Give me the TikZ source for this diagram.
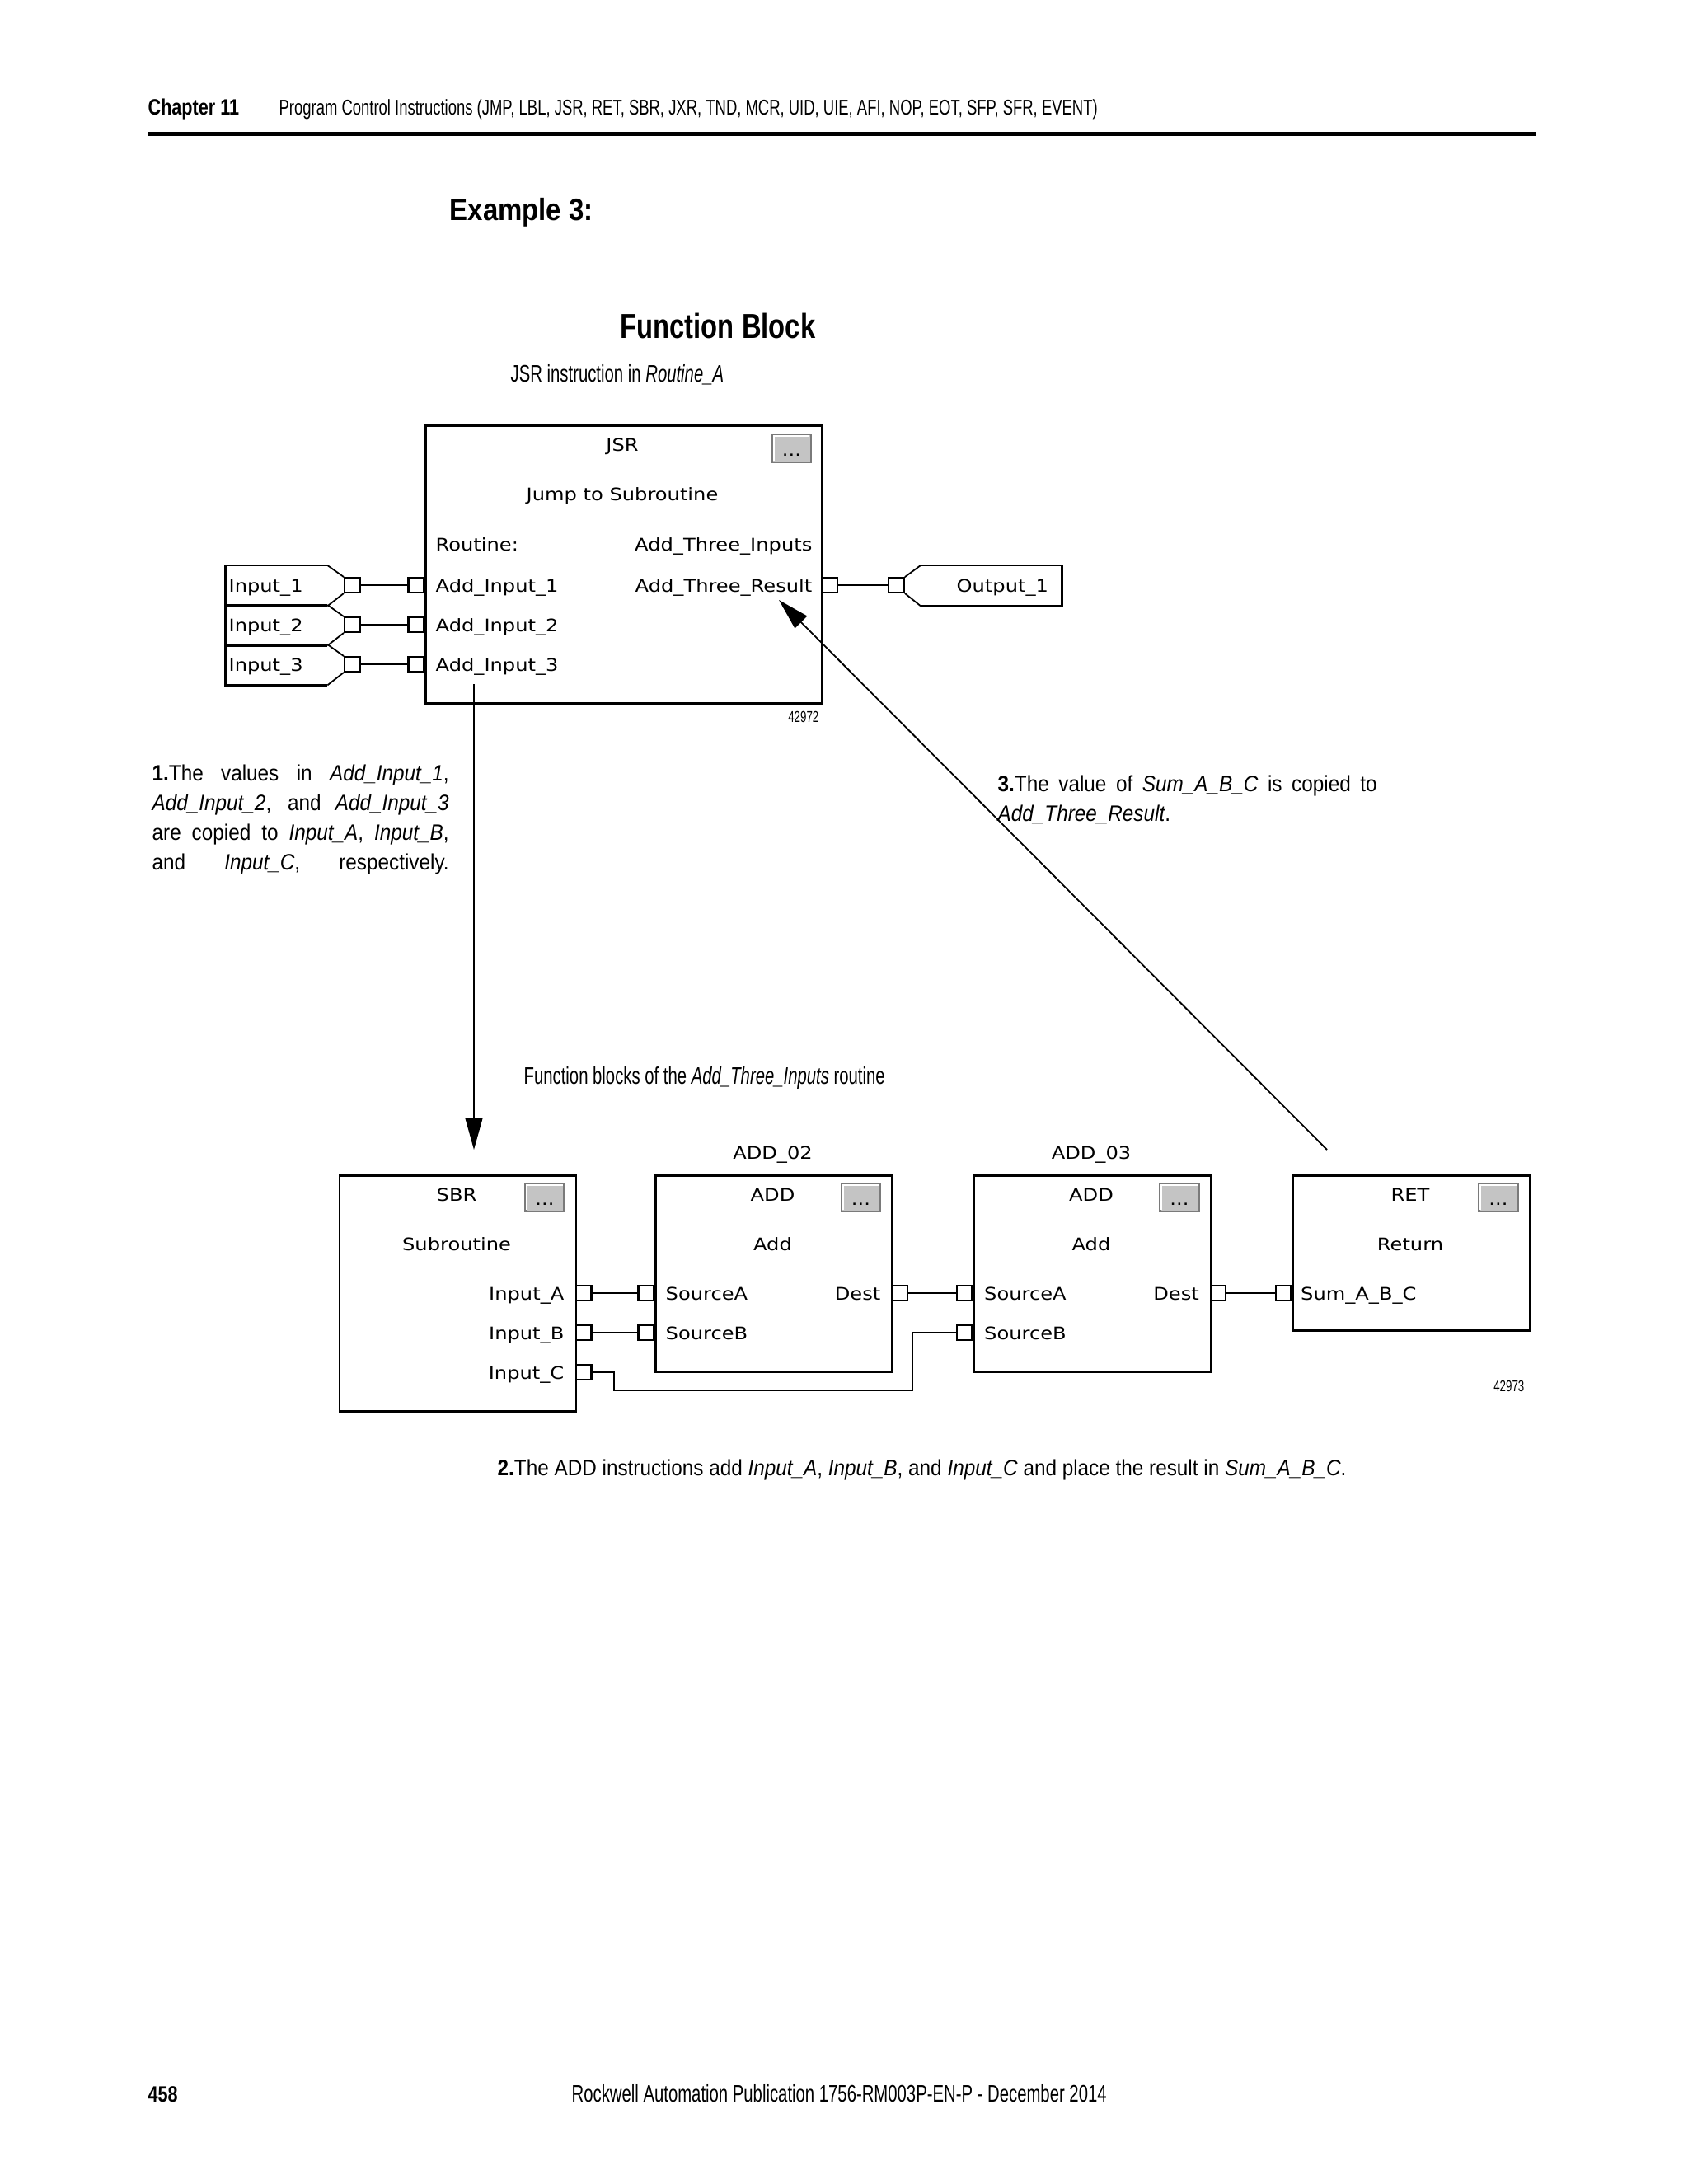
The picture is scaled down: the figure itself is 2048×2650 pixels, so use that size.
\documentclass[tikz,border=0pt]{standalone}
\usepackage{fontspec}
\usetikzlibrary{arrows.meta}
\newfontfamily\hdfont[FakeStretch=0.71]{Liberation Sans}
\newfontfamily\capfont[FakeStretch=0.7]{Liberation Sans}
\newfontfamily\hbfont[FakeStretch=0.8]{Liberation Sans}
\newfontfamily\exfont[FakeStretch=0.88]{Liberation Sans}
\newfontfamily\ttlfont[FakeStretch=0.78]{Liberation Sans}
\newfontfamily\bodyfont[FakeStretch=0.9]{Liberation Sans}
\newfontfamily\dgfont[FakeStretch=1.15]{DejaVu Sans}
\newcommand\PX[1]{#1*0.298828pt}
\definecolor{btnfill}{HTML}{C4C4C4}
\definecolor{btndark}{HTML}{7A7A7A}
\tikzset{
  fb/.style={draw, line width=\PX{2.8}, minimum width=\PX{287}, inner sep=0, anchor=north west},
  pinbox/.style={draw, line width=\PX{2.4}, minimum width=\PX{18.5}, minimum height=\PX{17.5}, inner sep=0, fill=white},
  wire/.style={line width=\PX{2.4}},
  chev/.style={line width=\PX{1.8}},
  tagline/.style={line width=\PX{2.6}},
  tagbox/.style={inner sep=0, minimum height=\PX{48}, anchor=north west},
  dtxt/.style={inner sep=0, font=\dgfont\fontsize{6.275pt}{7pt}\selectfont},
  btnbox/.style={draw=btndark, fill=btnfill, line width=\PX{2.2}, minimum width=\PX{47}, minimum height=\PX{34}, inner sep=0},
  ann/.style={line width=\PX{1.8}, -{Triangle[length=11.4pt,width=6.2pt]}},
  hdr/.style={inner sep=0, anchor=base west, font=\hdfont\fontsize{7.77pt}{9pt}\selectfont},
  hdrb/.style={inner sep=0, anchor=base west, font=\hbfont\bfseries\fontsize{8.07pt}{9pt}\selectfont},
  captxt/.style={inner sep=0, anchor=base west, font=\capfont\fontsize{8.67pt}{10pt}\selectfont},
  bodytxt/.style={inner sep=0, anchor=base west, font=\bodyfont\fontsize{8.07pt}{10.76pt}\selectfont},
  fignum/.style={inner sep=0, anchor=base east, font=\capfont\fontsize{5.68pt}{6pt}\selectfont}
}
\newcommand\fbbtn[3]{%
  \node[btnbox, anchor=north east] (#1) at (#2,#3) {};
  \draw[white, line width=\PX{2}] ([shift={(3,-3)}]#1.south west) -- ([shift={(3,3)}]#1.north west) -- ([shift={(-3,3)}]#1.north east);
  \node[dtxt, anchor=base] (#1d) at ([shift={(0,-9)}]#1.south) {...};
}
\begin{document}
\begin{tikzpicture}[x=0.298828pt, y=-0.298828pt]
\useasboundingbox (0,0) rectangle (2048,2650);
\fill[white] (0,0) rectangle (2048,2650);

% page header
\node[hdrb] (chap) at (179,139) {Chapter 11};
\node[hdr] (chapt) at (338,139) {Program Control Instructions (JMP, LBL, JSR, RET, SBR, JXR, TND, MCR, UID, UIE, AFI, NOP, EOT, SFP, SFR, EVENT)};
\draw[line width=\PX{5}] (179,162) -- (1864,162);

\node[inner sep=0, anchor=base west, font=\exfont\bfseries\fontsize{11.2pt}{12pt}\selectfont] (ex) at (545,267) {Example 3:};
\node[inner sep=0, anchor=base west, font=\ttlfont\bfseries\fontsize{12.55pt}{14pt}\selectfont] (fbt) at (752,410) {Function Block};
\node[captxt] (jsrcap) at (619,463) {JSR instruction in \textit{Routine\_A}};

% JSR block
\node[fb, minimum width=\PX{481}, minimum height=\PX{337}] (jsr) at (515,515) {};
\node[dtxt, anchor=base] (jsrT) at (755,547) {JSR};
\node[dtxt, anchor=base] (jsrS) at (755,607) {Jump to Subroutine};
\node[dtxt, anchor=base west] (jsrR) at (528,668) {Routine:};
\node[dtxt, anchor=base east] (jsrRn) at (986,668) {Add\_Three\_Inputs};
\node[dtxt, anchor=base west] (jsrI1) at (528,718) {Add\_Input\_1};
\node[dtxt, anchor=base east] (jsrO) at (986,718) {Add\_Three\_Result};
\node[dtxt, anchor=base west] (jsrI2) at (528,766) {Add\_Input\_2};
\node[dtxt, anchor=base west] (jsrI3) at (528,814) {Add\_Input\_3};
\fbbtn{jsrB}{985}{526}
\node[pinbox, anchor=east] (jp1) at (515,710) {};
\node[pinbox, anchor=east] (jp2) at (515,758) {};
\node[pinbox, anchor=east] (jp3) at (515,806) {};
\node[pinbox, anchor=west] (jpo) at (996,710) {};
\node[fignum] (n42972) at (994,876) {42972};

% input tags
\foreach \i/\yt/\yc in {1/686/710, 2/734/758, 3/782/806}{
  \node[tagbox, minimum width=\PX{122.4}] (tg\i) at (273.6,\yt) {};
  \node[dtxt, anchor=base west] (tgt\i) at (277,\yc+8) {Input\_\i};
  \node[pinbox, anchor=west] (tp\i) at (417,\yc) {};
  \draw[tagline] (tg\i.north east) -- (tg\i.north west) -- (tg\i.south west) -- (tg\i.south east);
  \draw[chev] (tg\i.north east) -- (tp\i.north west);
  \draw[chev] (tp\i.south west) -- (tg\i.south east);
  \draw[wire] (tp\i) -- (jp\i);
}

% output tag
\node[pinbox, anchor=west] (op) at (1077,710) {};
\node[tagbox, minimum width=\PX{170}] (otg) at (1117,686) {};
\node[dtxt, anchor=base west] (otgt) at (1160,718) {Output\_1};
\draw[tagline] (otg.north west) -- (otg.north east) -- (otg.south east) -- (otg.south west);
\draw[chev] (op.north east) -- (otg.north west);
\draw[chev] (op.south east) -- (otg.south west);
\draw[wire] (jpo) -- (op);

% annotations
\node[bodytxt] (t1) at (184,947) {\parbox[t]{107.58pt}{%
\makebox[107.58pt][s]{\textbf{1.}The values in \textit{Add\_Input\_1},}\\
\makebox[107.58pt][s]{\textit{Add\_Input\_2}, and \textit{Add\_Input\_3}}\\
\makebox[107.58pt][s]{are copied to \textit{Input\_A}, \textit{Input\_B},}\\
\makebox[107.58pt][s]{and \textit{Input\_C}, respectively.}}};
\node[bodytxt] (t3) at (1210,960) {\parbox[t]{137.46pt}{%
\makebox[137.46pt][s]{\textbf{3.}The value of \textit{Sum\_A\_B\_C} is copied to}\\
\textit{Add\_Three\_Result}.}};
\node[captxt] (fbcap) at (635,1315) {Function blocks of the \textit{Add\_Three\_Inputs} routine};

\coordinate (a1s) at (575,830);
\coordinate (a1e) at (575,1395);
\draw[ann] (a1s) -- (a1e);
\coordinate (a3s) at (1610,1395);
\coordinate (a3e) at (945,728);
\draw[ann] (a3s) -- (a3e);

% SBR block
\node[fb, minimum height=\PX{286}] (sbr) at (410.6,1425) {};
\node[dtxt, anchor=base] (sbrT) at (554,1457) {SBR};
\node[dtxt, anchor=base] (sbrS) at (554,1517) {Subroutine};
\node[dtxt, anchor=base east] (sbrA) at (685,1577) {Input\_A};
\node[dtxt, anchor=base east] (sbrB) at (685,1625) {Input\_B};
\node[dtxt, anchor=base east] (sbrC) at (685,1673) {Input\_C};
\fbbtn{sbrBt}{685.6}{1435}
\node[pinbox, anchor=west] (sp1) at (697.6,1569) {};
\node[pinbox, anchor=west] (sp2) at (697.6,1617) {};
\node[pinbox, anchor=west] (sp3) at (697.6,1665) {};

% ADD_02
\node[fb, minimum height=\PX{238}] (add2) at (794,1425) {};
\node[dtxt, anchor=base] (add2N) at (937.5,1406) {ADD\_02};
\node[dtxt, anchor=base] (add2T) at (937.5,1457) {ADD};
\node[dtxt, anchor=base] (add2S) at (937.5,1517) {Add};
\node[dtxt, anchor=base west] (add2A) at (807,1577) {SourceA};
\node[dtxt, anchor=base west] (add2B) at (807,1625) {SourceB};
\node[dtxt, anchor=base east] (add2D) at (1069,1577) {Dest};
\fbbtn{add2Bt}{1069}{1435}
\node[pinbox, anchor=east] (a2a) at (794,1569) {};
\node[pinbox, anchor=east] (a2b) at (794,1617) {};
\node[pinbox, anchor=west] (a2d) at (1081,1569) {};

% ADD_03
\node[fb, minimum height=\PX{238}] (add3) at (1180.5,1425) {};
\node[dtxt, anchor=base] (add3N) at (1324,1406) {ADD\_03};
\node[dtxt, anchor=base] (add3T) at (1324,1457) {ADD};
\node[dtxt, anchor=base] (add3S) at (1324,1517) {Add};
\node[dtxt, anchor=base west] (add3A) at (1193.5,1577) {SourceA};
\node[dtxt, anchor=base west] (add3B) at (1193.5,1625) {SourceB};
\node[dtxt, anchor=base east] (add3D) at (1455.5,1577) {Dest};
\fbbtn{add3Bt}{1455.5}{1435}
\node[pinbox, anchor=east] (a3a) at (1180.5,1569) {};
\node[pinbox, anchor=east] (a3b) at (1180.5,1617) {};
\node[pinbox, anchor=west] (a3d) at (1467.5,1569) {};

% RET
\node[fb, minimum height=\PX{188}] (ret) at (1567.5,1425) {};
\node[dtxt, anchor=base] (retT) at (1711,1457) {RET};
\node[dtxt, anchor=base] (retS) at (1711,1517) {Return};
\node[dtxt, anchor=base west] (retA) at (1577.5,1577) {Sum\_A\_B\_C};
\fbbtn{retBt}{1842.5}{1435}
\node[pinbox, anchor=east] (rp) at (1567.5,1569) {};
\node[fignum] (n42973) at (1850,1688) {42973};

% wires
\draw[wire] (sp1) -- (a2a);
\draw[wire] (sp2) -- (a2b);
\draw[wire] (a2d) -- (a3a);
\draw[wire] (a3d) -- (rp);
\coordinate (w1) at (745,1687);
\coordinate (w2) at (1107,1687);
\draw[wire] (sp3.east) -| (w1) -- (w2) |- (a3b.west);

\node[bodytxt] (t2) at (603,1790) {\textbf{2.}The ADD instructions add \textit{Input\_A}, \textit{Input\_B}, and \textit{Input\_C} and place the result in \textit{Sum\_A\_B\_C}.};

% footer
\node[hdrb] (pg) at (179,2550) {458};
\node[captxt] (pub) at (693,2550) {Rockwell Automation Publication 1756-RM003P-EN-P - December 2014};
\end{tikzpicture}
\end{document}
